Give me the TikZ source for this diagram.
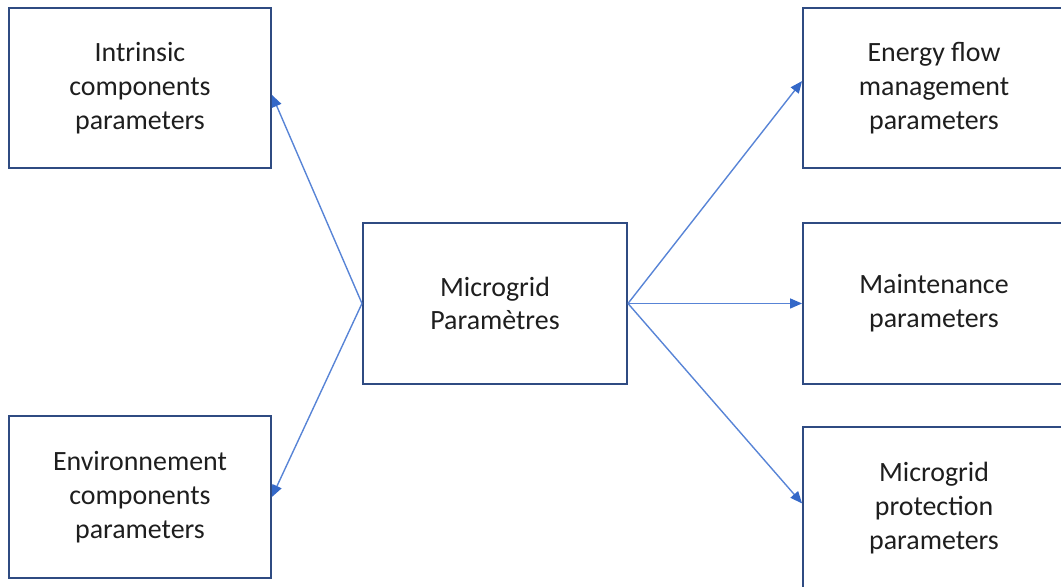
\documentclass[tikz,border=0pt]{standalone}
\usepackage{fontspec}
\setmainfont{Carlito}
\usepackage{xcolor}
\usepackage{tikz}
\usetikzlibrary{arrows.meta,positioning}

\definecolor{boxline}{RGB}{47,75,130}
\definecolor{linkblue}{RGB}{88,132,214}
\definecolor{tipblue}{RGB}{52,104,200}
\definecolor{txtgray}{RGB}{30,30,30}

\begin{document}
\begin{tikzpicture}[
  box/.style={draw=boxline, line width=1pt, fill=white, align=center, text=txtgray,
    font=\fontsize{14}{17}\selectfont, minimum width=4.62cm, minimum height=2.82cm, inner sep=0pt},
  link/.style={draw=linkblue, line width=0.7pt,
    -{Triangle[length=6pt,width=5pt,color=tipblue,fill=tipblue]}},
]
\useasboundingbox (0,0) rectangle (18.715,10.354);

% left column
\node[box] (intr) at (2.469,8.802) {Intrinsic\\components\\parameters};
\node[box, minimum height=2.86cm] (envi) at (2.469,1.588) {Environnement\\components\\parameters};

% centre
\node[box, minimum width=4.657cm, minimum height=2.84cm] (micro) at (8.731,5.001) {Microgrid\\Paramètres};

% right column (runs past the page edge)
\node[box] (energy) at (16.475,8.802) {Energy flow\\management\\parameters};
\node[box, minimum height=2.84cm] (maint) at (16.475,5.001) {Maintenance\\parameters};
\node[box, minimum height=2.86cm] (prot) at (16.475,1.393) {Microgrid\\protection\\parameters};

\draw[link] (micro.west) -- (intr.357);
\draw[link] (micro.west) -- (envi.east);
\draw[link] (micro.east) -- (energy.177);
\draw[link] (micro.east) -- (maint.west);
\draw[link] (micro.east) -- (prot.178);
\end{tikzpicture}
\end{document}
